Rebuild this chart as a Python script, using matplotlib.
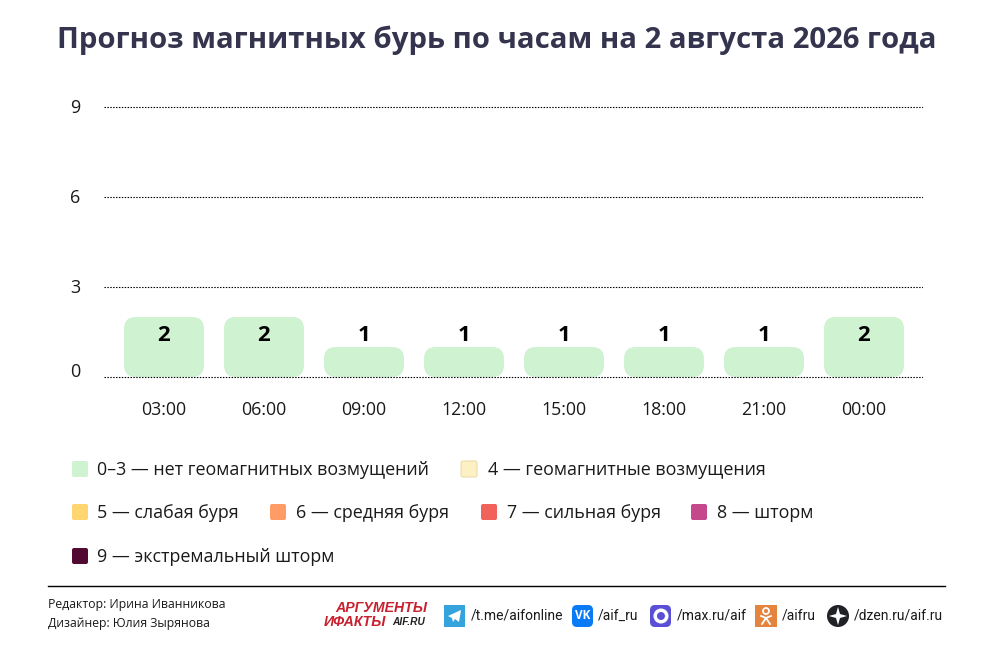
import matplotlib
matplotlib.use('Agg')
import matplotlib.pyplot as plt
from matplotlib.patches import FancyBboxPatch, Polygon, Circle, Rectangle
from matplotlib.transforms import ScaledTranslation

plt.rcParams['font.family'] = ['Open Sans', 'DejaVu Sans']

# данные
hours = ['03:00', '06:00', '09:00', '12:00', '15:00', '18:00', '21:00', '00:00']
kp_values = [2, 2, 1, 1, 1, 1, 1, 2]
y_ticks = [0, 3, 6, 9]

legend_labels = [
    '0–3 — нет геомагнитных возмущений', '4 — геомагнитные возмущения',
    '5 — слабая буря', '6 — средняя буря', '7 — сильная буря', '8 — шторм',
    '9 — экстремальный шторм',
]
legend_colors = ['#cff2d1', '#fdf0c4', '#ffd570', '#ff9b66', '#f0625a', '#c5488c', '#520a32']
legend_x = [72, 461, 72, 270, 481, 691, 72]
legend_text_x = [97, 488, 97, 296, 507, 717, 97]
legend_y = [469, 469, 512, 512, 512, 512, 556]

credits = ['Редактор: Ирина Иванникова', 'Дизайнер: Юлия Зырянова']
socials = ['/t.me/aifonline', '/aif_ru', '/max.ru/aif', '/aifru', '/dzen.ru/aif.ru']
social_x = [471, 598, 677, 782, 854]

W, H = 992, 658
TEXT = '#1a1a1a'
fig = plt.figure(figsize=(W / 100, H / 100), dpi=100, facecolor='white')

# поле графика: 0 на 377 px, 30 px на единицу
ax = fig.add_axes([104 / W, 1 - 392 / H, 819 / W, 300 / H])
ax.set_xlim(-0.6, 7.59)
ax.set_ylim(-0.5, 9.5)
for s in ax.spines.values():
    s.set_visible(False)
ax.set_axisbelow(False)
ax.grid(axis='y', color='black', linestyle=(0, (1.3, 1.3)), linewidth=0.8)

for i, v in enumerate(kp_values):
    ax.add_patch(FancyBboxPatch((i - 0.4, 0), 0.8, v,
                                boxstyle='round,pad=0,rounding_size=0.12',
                                mutation_aspect=100 / 30,
                                facecolor=legend_colors[0], edgecolor='none', zorder=1))
    ax.text(i, 1.37, str(v), ha='center', va='center', fontsize=16,
            fontweight='bold', color='black', zorder=3)

ax.set_xticks(range(len(hours)))
ax.set_xticklabels(hours, fontsize=12.8, color=TEXT)
ax.set_yticks(y_ticks)
ax.set_yticklabels([str(t) for t in y_ticks], fontsize=13, color=TEXT)
ax.tick_params(axis='x', length=0, pad=6.3)
ax.tick_params(axis='y', length=0, pad=17)
# подпись 0 в оригинале выше линии
for t, lab in zip(y_ticks, ax.get_yticklabels()):
    shift = 7 if t == 0 else 1
    lab.set_transform(lab.get_transform() + ScaledTranslation(0, shift / 100, fig.dpi_scale_trans))

# всё остальное в пикселях картинки
ov = fig.add_axes([0, 0, 1, 1], zorder=5)
ov.set_xlim(0, W)
ov.set_ylim(H, 0)
ov.axis('off')
ov.patch.set_alpha(0)

ov.text(497, 40, 'Прогноз магнитных бурь по часам на 2 августа 2026 года', ha='center', va='center',
        fontsize=21.2, fontweight='bold', color='#34344e')

for lab, col, x, tx, y in zip(legend_labels, legend_colors, legend_x, legend_text_x, legend_y):
    edge = '#e9d9a0' if col == '#fdf0c4' else 'none'
    ov.add_patch(FancyBboxPatch((x, y - 8), 16, 16, boxstyle='round,pad=0,rounding_size=2',
                                facecolor=col, edgecolor=edge, linewidth=0.7))
    ov.text(tx, y + 1, lab, ha='left', va='center', fontsize=12.9, color=TEXT)

ov.plot([48, 945], [586, 586], color='black', linewidth=1)
ov.text(48, 604.5, credits[0], ha='left', va='center', fontsize=8.85, color=TEXT)
ov.text(48, 623, credits[1], ha='left', va='center', fontsize=8.85, color=TEXT)

# логотип
logo_font = ['Liberation Sans', 'DejaVu Sans']
ov.text(335, 608.5, 'АРГУМЕНТЫ', ha='left', va='center', fontsize=10.2, fontweight='bold', style='italic',
        color='#c8202f', family=logo_font)
ov.text(324, 621.5, 'ИФАКТЫ', ha='left', va='center', fontsize=10.2, fontweight='bold', style='italic',
        color='#c8202f', family=logo_font)
ov.text(392, 622, 'AIF.RU', ha='left', va='center', fontsize=7.3, fontweight='bold', style='italic',
        color='#222222', family=logo_font)

# значки соцсетей
ov.add_patch(Rectangle((444, 605), 21, 22, facecolor='#35a3dc', edgecolor='none'))
ov.add_patch(Polygon([(448, 616), (461, 610), (459, 622), (455, 619), (453, 622), (452, 618)],
                     facecolor='white', edgecolor='none'))

ov.add_patch(FancyBboxPatch((572, 605), 21, 22, boxstyle='round,pad=0,rounding_size=5',
                            facecolor='#0b7bf5', edgecolor='none'))
ov.text(582.5, 615.5, 'VK', ha='center', va='center', fontsize=8.5, fontweight='bold', color='white')

ov.add_patch(FancyBboxPatch((650, 605), 21, 22, boxstyle='round,pad=0,rounding_size=5',
                            facecolor='#5a50d8', edgecolor='none'))
ov.add_patch(Circle((661, 616), 7.5, facecolor='white', edgecolor='none'))
ov.add_patch(Circle((661, 616), 4, facecolor='#5a50d8', edgecolor='none'))

ov.add_patch(Rectangle((755, 605), 22, 22, facecolor='#e5853d', edgecolor='none'))
ov.add_patch(Circle((766, 611), 3, facecolor='none', edgecolor='white', linewidth=1.3))
ov.plot([761, 766, 771], [616, 618, 616], color='white', linewidth=1.3)
ov.plot([762, 766, 770], [624, 618, 624], color='white', linewidth=1.3)

ov.add_patch(Circle((838, 616), 11, facecolor='#202124', edgecolor='none'))
ov.add_patch(Polygon([(838, 607), (840, 614), (847, 616), (840, 618), (838, 625),
                      (836, 618), (829, 616), (836, 614)], facecolor='white', edgecolor='none'))

for lab, x in zip(socials, social_x):
    ov.text(x, 615.5, lab, ha='left', va='center', fontsize=10, color=TEXT, family=['Roboto', 'DejaVu Sans'])

fig.savefig('out.png', dpi=100)
